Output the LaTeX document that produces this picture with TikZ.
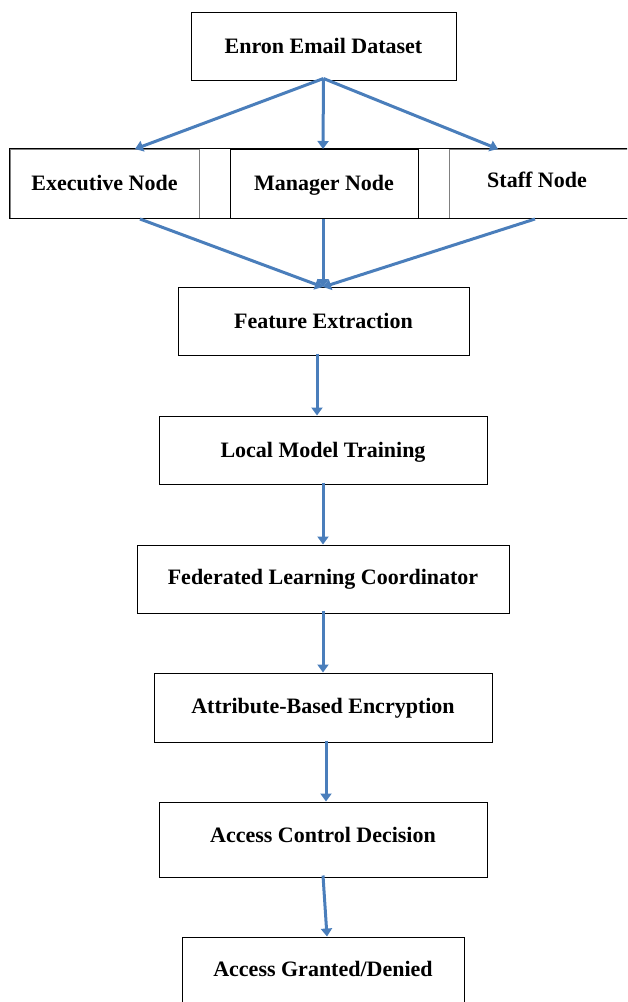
\documentclass[tikz,border=0pt]{standalone}
\usepackage{fontspec}
\setmainfont{Liberation Serif}
\usetikzlibrary{arrows.meta}
\definecolor{arrowblue}{HTML}{4A7EBB}
\begin{document}
\begin{tikzpicture}[x=1pt,y=-1pt,
  txt/.style={inner sep=0pt,font=\fontsize{22}{26}\selectfont\bfseries,text height=14.6pt,text depth=0pt},
  box/.style={txt,draw=black,line width=1pt,rectangle},
  arr/.style={draw=arrowblue,line width=3pt,-{Triangle[width=11pt,length=8pt]}}]
\useasboundingbox (0,0) rectangle (627,1002);
\clip (0,0) rectangle (627,1002);

\node[box,minimum width=265pt,minimum height=68pt] (enron) at (323.5,46) {Enron Email Dataset};

\node[box,draw=gray,minimum width=189pt,minimum height=69pt] (exec) at (104.5,183.5) {Executive Node};
\node[box,minimum width=188pt,minimum height=69pt] (mgr) at (324,183.5) {Manager Node};
\node[box,draw=gray,minimum width=300pt,minimum height=69pt] (staff) at (599,183.5) {};
\node[txt,text depth=7pt] (stafftext) at (537,183.5) {Staff Node};
\draw[line width=1pt] (exec.north west) rectangle (staff.south east);

\node[box,minimum width=291pt,minimum height=68pt] (feat) at (323.5,321) {Feature Extraction};
\node[box,minimum width=328pt,minimum height=68pt] (local) at (323,450) {Local Model Training};
\node[box,minimum width=372pt,minimum height=68pt,text depth=4pt] (fed) at (323,579) {Federated Learning Coordinator};
\node[box,minimum width=338pt,minimum height=69pt,text depth=3pt] (attr) at (323,707.5) {Attribute-Based Encryption};
\node[box,minimum width=328pt,minimum height=75pt,text depth=9pt] (acd) at (323,839.5) {Access Control Decision};
\node[box,minimum width=282pt,minimum height=73pt,text depth=8pt] (agd) at (323,973.5) {Access Granted/Denied};

\coordinate (inE) at (135,149);
\coordinate (inM) at (323,149);
\coordinate (inS) at (498,149);
\coordinate (outE) at (140,219);
\coordinate (outM) at (323,219);
\coordinate (outS) at (535,219);
\coordinate (join) at (323,287);

\draw[arr] ([yshift=2pt]enron.south) -- (inE);
\draw[arr] ([yshift=2pt]enron.south) -- (inM);
\draw[arr] ([yshift=2pt]enron.south) -- (inS);

\draw[arr] (outE) -- (join);
\draw[arr] (outM) -- (join);
\draw[arr] (outS) -- (join);

\draw[arr] ([xshift=-6.5pt,yshift=2pt]feat.south) -- ([xshift=-6.5pt]feat.south |- local.north);
\draw[arr] ([yshift=2pt]local.south) -- (fed.north);
\draw[arr] ([yshift=3pt]fed.south) -- (attr.north);
\draw[arr] ([xshift=3pt,yshift=2pt]attr.south) -- ([xshift=3pt]acd.north);
\draw[arr] ([yshift=2pt]acd.south) -- ([xshift=4pt]agd.north);
\end{tikzpicture}
\end{document}
